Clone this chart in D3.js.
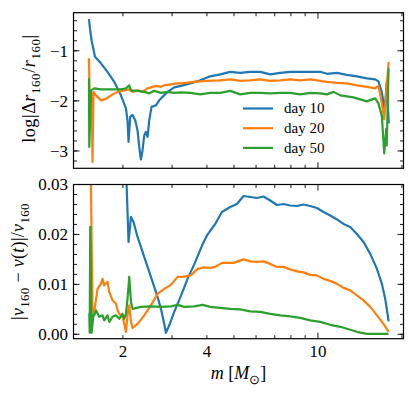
<!DOCTYPE html>
<html><head><meta charset="utf-8">
<script src="https://cdn.jsdelivr.net/npm/d3@7"></script>
<style>
body{margin:0;background:#fff}
svg{display:block}
text{font-family:"Liberation Serif","Times New Roman",serif;fill:#000}
</style>
</head><body>
<svg id="c" width="416" height="398"></svg>
<script>
// ---------- data ----------
const seriesNames = ["day 10", "day 20", "day 50"];
const seriesColors = ["#1f77b4", "#ff7f0e", "#2ca02c"];
const xTickLabels = [2, 4, 10];
const xMinorTicks = [2, 3, 4, 5, 6, 7, 8, 9, 20];
const xMajorTicks = [10];
const topYTicks = [-1, -2, -3];
const botYTicks = [0, 0.01, 0.02, 0.03];

// top panel: log|Δr160/r160|
const topDay10M = [1.511,1.523,1.544,1.588,1.668,1.761,1.861,1.967,2.050,2.077,2.095,2.124,2.165,2.214,2.256,2.288,2.320,2.351,2.384,2.418,2.451,2.485,2.532,2.626,2.699,2.773,2.890,3.054,3.228,3.485,3.785,4.111,4.464,4.848,5.264,5.718,6.210,6.746,7.325,7.955,8.639,9.383,10.19,10.77,11.70,12.70,13.79,14.98,16.04,16.48,16.95,17.35,17.64,17.94];
const topDay10 = [-0.37,-0.55,-0.79,-1.12,-1.25,-1.42,-1.62,-1.89,-2.15,-2.39,-2.82,-2.32,-2.28,-2.39,-2.59,-2.92,-3.17,-2.99,-2.69,-2.62,-2.72,-2.39,-2.12,-2.09,-1.99,-1.92,-1.82,-1.73,-1.70,-1.65,-1.59,-1.51,-1.47,-1.42,-1.44,-1.42,-1.42,-1.47,-1.44,-1.42,-1.42,-1.42,-1.42,-1.46,-1.44,-1.48,-1.51,-1.55,-1.57,-1.61,-1.83,-2.20,-1.62,-2.45];

const topDay20M = [1.511,1.520,1.544,1.556,1.569,1.601,1.668,1.738,1.812,1.913,2.022,2.107,2.165,2.256,2.351,2.451,2.520,2.626,2.737,2.812,2.972,3.139,3.271,3.581,4.001,4.464,4.848,5.264,5.718,6.210,6.746,7.325,7.955,8.639,9.383,10.19,10.77,11.70,12.70,13.79,14.98,16.04,16.48,16.95,17.28,17.57,17.91];
const topDay20 = [-1.15,-2.00,-1.85,-3.22,-1.82,-1.89,-1.99,-1.96,-1.89,-1.82,-1.79,-1.77,-1.82,-1.79,-1.82,-1.75,-1.73,-1.70,-1.72,-1.69,-1.67,-1.65,-1.65,-1.62,-1.60,-1.59,-1.57,-1.60,-1.59,-1.57,-1.60,-1.59,-1.57,-1.59,-1.57,-1.60,-1.62,-1.64,-1.65,-1.69,-1.72,-1.75,-1.70,-2.05,-2.37,-1.85,-1.22];

const topDay50M = [1.511,1.515,1.536,1.578,1.668,1.761,1.861,1.967,2.050,2.107,2.137,2.256,2.384,2.485,2.590,2.737,2.890,3.054,3.228,3.485,3.785,4.111,4.464,4.848,5.264,5.718,6.210,6.746,7.325,7.955,8.639,9.383,10.19,10.77,11.37,12.02,12.70,13.41,14.17,14.98,15.61,16.04,16.48,16.95,17.28,17.57,17.64,17.91];
const topDay50 = [-1.55,-2.92,-1.79,-1.75,-1.77,-1.77,-1.77,-1.77,-1.75,-1.69,-1.79,-1.80,-1.82,-1.85,-1.80,-1.84,-1.82,-1.84,-1.83,-1.84,-1.87,-1.84,-1.84,-1.80,-1.87,-1.84,-1.84,-1.85,-1.84,-1.84,-1.87,-1.84,-1.85,-1.87,-1.82,-1.89,-1.91,-1.93,-1.97,-2.01,-1.97,-1.95,-2.05,-2.31,-3.05,-2.56,-2.89,-1.35];

// bottom panel: |v160 - v(t)|/v160
const botDay10M = [1.511,2.040,2.060,2.095,2.137,2.183,2.256,2.384,2.520,2.661,2.737,2.812,2.852,2.931,3.054,3.228,3.408,3.602,3.858,4.001,4.284,4.528,4.848,5.123,5.411,5.718,6.043,6.381,6.746,7.129,7.527,7.955,8.407,8.877,9.383,9.917,10.47,11.07,11.70,12.35,13.05,13.79,14.57,15.40,16.27,16.95,17.42,17.76,17.91];
const botDay10 = [0.30,0.050,0.0305,0.0185,0.0235,0.0225,0.0195,0.0155,0.0115,0.0075,0.0051,0.0021,0.0003,0.0018,0.0045,0.0077,0.0111,0.0140,0.0180,0.0198,0.0221,0.0245,0.0255,0.0261,0.0277,0.0275,0.0273,0.0276,0.0268,0.0259,0.0261,0.0258,0.0257,0.0260,0.0257,0.0253,0.0245,0.0238,0.0230,0.0221,0.0215,0.0201,0.0185,0.0161,0.0131,0.0101,0.0071,0.0041,0.0026];

const botDay20M = [1.511,1.536,1.556,1.578,1.622,1.668,1.690,1.714,1.761,1.786,1.836,1.888,1.913,1.940,1.993,2.022,2.050,2.077,2.107,2.137,2.165,2.256,2.384,2.520,2.661,2.812,2.972,3.139,3.271,3.505,3.702,3.912,4.111,4.284,4.528,4.981,5.411,5.718,6.043,6.381,6.746,7.129,7.527,7.955,8.407,8.877,9.383,9.917,10.47,11.07,11.70,12.35,13.05,13.79,14.57,15.40,16.27,17.18,17.91];
const botDay20 = [0.20,0.030,0.0045,0.0045,0.0091,0.0101,0.0111,0.0098,0.0105,0.0085,0.0068,0.0061,0.0048,0.0041,0.0035,0.0021,0.0005,0.0038,0.0058,0.0025,0.0013,0.0021,0.0038,0.0058,0.0081,0.0091,0.0099,0.0115,0.0115,0.0118,0.0131,0.0134,0.0133,0.0135,0.0143,0.0143,0.0150,0.0146,0.0145,0.0146,0.0141,0.0135,0.0135,0.0130,0.0126,0.0124,0.0119,0.0118,0.0111,0.0107,0.0101,0.0093,0.0088,0.0078,0.0068,0.0055,0.0038,0.0021,0.0005];

const botDay50M = [1.515,1.520,1.527,1.544,1.569,1.578,1.601,1.645,1.690,1.714,1.761,1.786,1.836,1.888,1.940,1.993,2.022,2.050,2.077,2.107,2.137,2.165,2.320,2.520,2.737,2.972,3.139,3.317,3.602,3.858,4.111,4.464,4.848,5.264,5.718,6.210,6.746,7.325,7.955,8.639,9.383,10.19,11.07,12.02,13.05,13.79,14.98,16.27,17.18,17.91];
const botDay50 = [0.0042,0.0003,0.0215,0.0003,0.0040,0.0038,0.0048,0.0035,0.0038,0.0028,0.0038,0.0025,0.0035,0.0038,0.0031,0.0041,0.0031,0.0041,0.0071,0.0115,0.0065,0.0051,0.0055,0.0056,0.0055,0.0056,0.0059,0.0055,0.0056,0.0059,0.0055,0.0053,0.0051,0.0050,0.0046,0.0045,0.0041,0.0038,0.0036,0.0033,0.0028,0.0025,0.0019,0.0015,0.0009,0.0005,0.0001,0.0001,0.0001,0.0001];

// ---------- layout ----------
const svg = d3.select("#c");
const L = 73.5, R = 403.5;
const topP = {y0: 12.7, y1: 168.3, domain: [-3.346, -0.24]};
const botP = {y0: 184.5, y1: 338.7, domain: [-0.00088, 0.03]};
const x = d3.scaleLog().domain([1.330, 20.26]).range([L, R]);
const yTop = d3.scaleLinear().domain(topP.domain).range([topP.y1, topP.y0]);
const yBot = d3.scaleLinear().domain(botP.domain).range([botP.y1, botP.y0]);

const topSeries = [[topDay10M, topDay10], [topDay20M, topDay20], [topDay50M, topDay50]];
const botSeries = [[botDay10M, botDay10], [botDay20M, botDay20], [botDay50M, botDay50]];

const TFS = 17;
const defs = svg.append("defs");
function panel(id, P, y, series, yMinor, yMajor, yFmt, showXLabels) {
  defs.append("clipPath").attr("id", id).append("rect")
    .attr("x", L).attr("y", P.y0).attr("width", R - L).attr("height", P.y1 - P.y0);
  const g = svg.append("g");
  const line = d3.line().x(d => x(d[0])).y(d => y(d[1]));
  series.forEach((s, i) => {
    const pts = s[0].map((m, k) => [m, s[1][k]]);
    g.append("path").attr("clip-path", `url(#${id})`)
      .attr("d", line(pts)).attr("fill", "none")
      .attr("stroke", seriesColors[i]).attr("stroke-width", 2.2)
      .attr("stroke-linejoin", "round").attr("stroke-linecap", "butt");
  });
  const tk = g.append("g").attr("stroke", "#000").attr("stroke-width", 0.9);
  const xt = [...xMinorTicks.map(v => [v, 3.5]), ...xMajorTicks.map(v => [v, 6])];
  xt.forEach(([v, len]) => {
    const px = x(v);
    if (px < L || px > R) return;
    tk.append("line").attr("x1", px).attr("x2", px).attr("y1", P.y1).attr("y2", P.y1 - len);
    tk.append("line").attr("x1", px).attr("x2", px).attr("y1", P.y0).attr("y2", P.y0 + len);
  });
  const yt = [...yMinor.map(v => [v, 3.5]), ...yMajor.map(v => [v, 6])];
  yt.forEach(([v, len]) => {
    const py = y(v);
    if (py < P.y0 - 0.1 || py > P.y1 + 0.1) return;
    tk.append("line").attr("y1", py).attr("y2", py).attr("x1", L).attr("x2", L + len);
    tk.append("line").attr("y1", py).attr("y2", py).attr("x1", R).attr("x2", R - len);
  });
  g.append("rect").attr("x", L).attr("y", P.y0).attr("width", R - L).attr("height", P.y1 - P.y0)
    .attr("fill", "none").attr("stroke", "#000").attr("stroke-width", 1.2);
  yMajor.forEach(v => {
    g.append("text").attr("x", L - 5.5).attr("y", y(v)).attr("dy", "0.34em")
      .attr("text-anchor", "end").attr("font-size", TFS).text(yFmt(v));
  });
  if (showXLabels) {
    xTickLabels.forEach(v => {
      g.append("text").attr("x", x(v)).attr("y", P.y1 + 18.5)
        .attr("text-anchor", "middle").attr("font-size", TFS).text(v);
    });
  }
}
const topMinor = d3.range(-32, -1, 2).map(v => v / 10);
const botMinor = d3.range(0, 31, 2).map(v => v / 1000);
panel("cTop", topP, yTop, topSeries, topMinor, topYTicks, v => "\u2212" + Math.abs(v), false);
panel("cBot", botP, yBot, botSeries, botMinor, botYTicks, v => v.toFixed(2), true);

// ---------- math labels ----------
function mathText(sel, parts, size) {
  parts.forEach(p => {
    const t = sel.append("tspan").text(p.t);
    if (p.i) t.attr("font-style", "italic");
    if (p.sub) t.attr("font-size", size * 0.72).attr("dy", size * 0.26);
    if (p.back) t.attr("dy", -size * 0.26);
  });
}
const fs = 18;
const tl = svg.append("text").attr("font-size", fs).attr("text-anchor", "middle")
  .attr("letter-spacing", 0.6)
  .attr("transform", `translate(35,${(topP.y0 + topP.y1) / 2 - 2}) rotate(-90)`);
mathText(tl, [{t: "log|\u0394"}, {t: "r", i: 1}, {t: "160", sub: 1}, {t: "/", back: 1}, {t: "r", i: 1}, {t: "160", sub: 1}, {t: "|", back: 1}], fs);

const bl = svg.append("text").attr("font-size", fs).attr("text-anchor", "middle")
  .attr("letter-spacing", 0.3)
  .attr("transform", `translate(24,${(botP.y0 + botP.y1) / 2}) rotate(-90)`);
mathText(bl, [{t: "|"}, {t: "v", i: 1}, {t: "160", sub: 1}, {t: " \u2212 ", back: 1}, {t: "v", i: 1}, {t: "("}, {t: "t", i: 1}, {t: ")|/"}, {t: "v", i: 1}, {t: "160", sub: 1}], fs);

const xl = svg.append("text").attr("font-size", fs).attr("text-anchor", "middle")
  .attr("x", (L + R) / 2).attr("y", 379);
mathText(xl, [{t: "m", i: 1}, {t: " ["}, {t: "M", i: 1}, {t: "\u2299", sub: 1}, {t: "]", back: 1}], fs);

// ---------- legend ----------
const lg = svg.append("g");
seriesNames.forEach((n, i) => {
  const yy = 108.5 + i * 19.7;
  lg.append("line").attr("x1", 243).attr("x2", 273).attr("y1", yy).attr("y2", yy)
    .attr("stroke", seriesColors[i]).attr("stroke-width", 2.2);
  lg.append("text").attr("x", 284).attr("y", yy).attr("dy", "0.33em")
    .attr("font-size", 15).text(n);
});
</script>
</body></html>
